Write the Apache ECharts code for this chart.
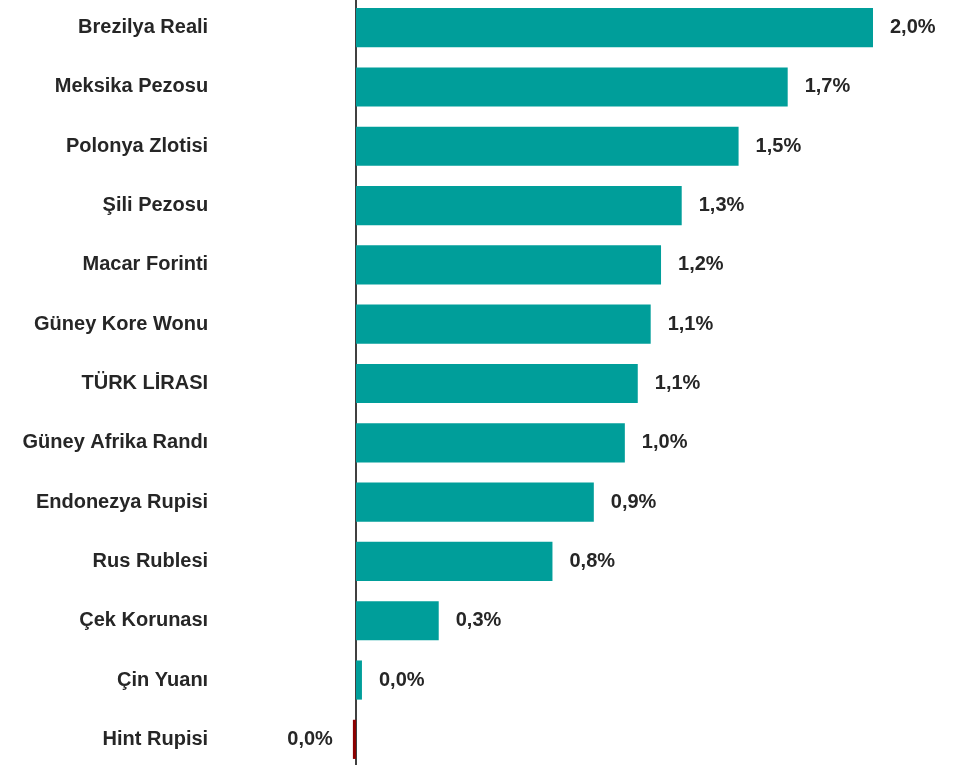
<!DOCTYPE html>
<html><head><meta charset="utf-8">
<script src="https://cdn.jsdelivr.net/npm/echarts@6/dist/echarts.min.js"></script>
<style>html,body{margin:0;padding:0;background:#fff;overflow:hidden}#c{width:957px;height:771px;margin-top:-2px}</style>
</head><body><div id="c"></div>
<script>
const categories = ["Brezilya Reali","Meksika Pezosu","Polonya Zlotisi","Şili Pezosu","Macar Forinti","Güney Kore Wonu","TÜRK LİRASI","Güney Afrika Randı","Endonezya Rupisi","Rus Rublesi","Çek Korunası","Çin Yuanı","Hint Rupisi"];
const values = [2.0,1.67,1.48,1.26,1.18,1.14,1.09,1.04,0.92,0.76,0.32,0.023,-0.012];
const FONT = '"Liberation Sans",Arial,sans-serif';
const chart = echarts.init(document.getElementById('c'));
chart.setOption({
  animation:false,
  grid:{left:330.15,right:84,top:0,bottom:0,containLabel:false},
  xAxis:{type:'value',min:-0.1,max:2.0,show:false},
  yAxis:{type:'category',data:categories,inverse:true,z:1,
    axisLine:{show:true,onZero:true,lineStyle:{color:'#404040',width:2}},
    axisTick:{show:false},
    axisLabel:{margin:122,color:'#262626',fontFamily:FONT,fontWeight:'bold',fontSize:20}},
  series:[{type:'bar',barCategoryGap:'34%',z:3,
    data:values.map(v=>({value:v,itemStyle:{color:v<0?'#8B0000':'#009E9A'},
      label:{position:v<0?'left':'right',distance:v<0?20:17}})),
    label:{show:true,color:'#262626',fontFamily:FONT,fontWeight:'bold',fontSize:20,
      formatter:p=>(Math.round(p.value*10)/10).toFixed(1).replace('.',',')+'%'}}]
});
</script></body></html>
